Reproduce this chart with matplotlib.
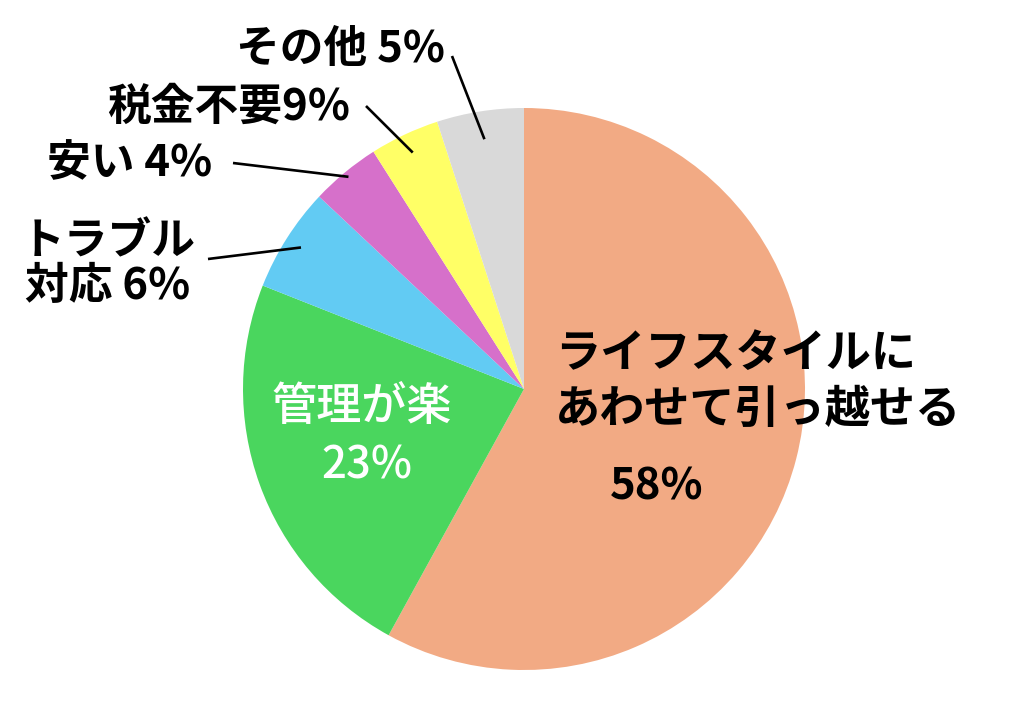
import numpy as np
import matplotlib.pyplot as plt

plt.rcParams['font.family'] = ['Noto Sans CJK JP', 'DejaVu Sans']

# スライスの大きさ（画像から読んだ値）
categories = ['ライフスタイルに\nあわせて引っ越せる', '管理が楽', 'トラブル\n対応', '安い', '税金不要', 'その他']
values = [58, 23, 6, 4, 4, 5]
pct_labels = ['58%', '23%', '6%', '4%', '9%', '5%']
colors = ['#F2AA84', '#4AD65E', '#62CBF3', '#D670CA', '#FFFF66', '#D9D9D9']

W, H = 1024, 701
CX, CY, R = 524, 389, 281

fig = plt.figure(figsize=(W / 100, H / 100), dpi=100)
ax = fig.add_axes([(CX - R) / W, (H - CY - R) / H, 2 * R / W, 2 * R / H])

wedges, _ = ax.pie(values, colors=colors, startangle=90, counterclock=False,
                   radius=1, wedgeprops=dict(linewidth=0))
ax.set_xlim(-1, 1)
ax.set_ylim(-1, 1)
ax.set_aspect('equal')
ax.axis('off')


def px(x, y):
    # ピクセル座標 -> データ座標
    return (x - CX) / R, (CY - y) / R


fs = 31.5

# 内側のラベル
x, y = px(555, 382)
ax.text(x, y, categories[0], fontsize=32.5, fontweight='bold', ha='left', va='center',
        linespacing=1.25, clip_on=False)
x, y = px(657, 486)
ax.text(x, y, pct_labels[0], fontsize=fs, fontweight='bold', ha='center', va='center')

x, y = px(362, 407)
ax.text(x, y, categories[1], fontsize=32.5, fontweight='medium', color='white', ha='center', va='center')
x, y = px(367, 466)
ax.text(x, y, pct_labels[1], fontsize=fs, fontweight='medium', color='white', ha='center', va='center')

# 外側のラベルと引き出し線（テキスト位置, 線の始点, 線の終点の半径, 揃え）
outer = {
    2: ((108, 264), (208, 259), 0.94, 'center'),
    3: ((212, 163), (233, 163), 0.98, 'right'),
    4: ((350, 107), (366, 106), 0.93, 'right'),
    5: ((445, 49), (452, 56), 0.90, 'right'),
}
for i, (tpos, lstart, rr, ha) in outer.items():
    w = wedges[i]
    mid = np.deg2rad((w.theta1 + w.theta2) / 2)
    ex, ey = rr * np.cos(mid), rr * np.sin(mid)
    sx, sy = px(*lstart)
    ax.plot([sx, ex], [sy, ey], color='black', lw=1.9, solid_capstyle='butt', clip_on=False)
    if i == 4:
        txt = categories[i] + pct_labels[i]
    else:
        txt = categories[i] + ' ' + pct_labels[i]
    x, y = px(*tpos)
    ax.text(x, y, txt, fontsize=fs, fontweight='bold', ha=ha, va='center',
            linespacing=1.02, multialignment='center', clip_on=False)

fig.savefig('out.png', dpi=100)
